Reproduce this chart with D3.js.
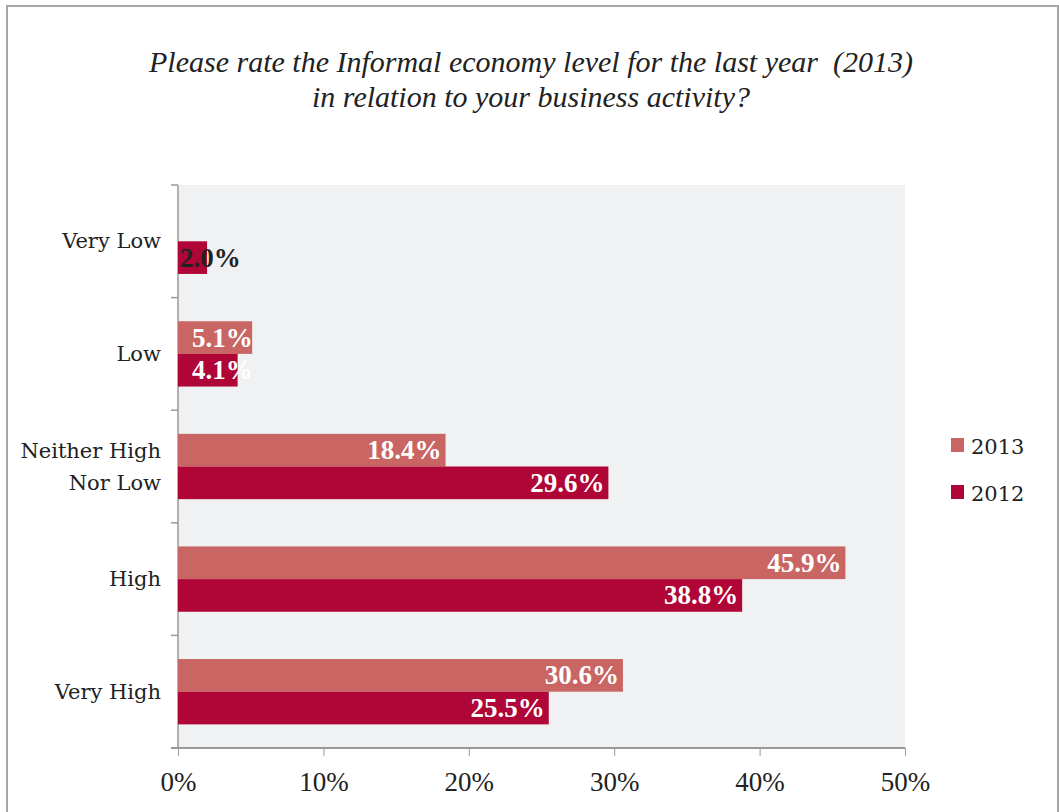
<!DOCTYPE html>
<html>
<head>
<meta charset="utf-8">
<script src="https://cdn.jsdelivr.net/npm/d3@7"></script>
<style>
  body { margin: 0; background: #fff; }
  .tick text { font-family: "Liberation Serif", serif; }
</style>
</head>
<body>
<div id="chart"></div>
<script>
// Data
//= ================================
var categories = ["Very Low", "Low", "Neither High Nor Low", "High", "Very High"];
var seriesNames = ["2013", "2012"];
var values2013 = [null, 5.1, 18.4, 45.9, 30.6];
var values2012 = [2.0, 4.1, 29.6, 38.8, 25.5];
var xTicks = [0, 10, 20, 30, 40, 50];
var colors = ["#c96663", "#b00537"];

// Set up chart
//= ================================
var svgWidth = 1059;
var svgHeight = 812;

var margin = { top: 185, right: 154, bottom: 64, left: 178 };
var width = svgWidth - margin.left - margin.right;
var height = svgHeight - margin.top - margin.bottom;

var svg = d3.select("#chart")
  .append("svg")
  .attr("width", svgWidth)
  .attr("height", svgHeight);

// outer frame
svg.append("rect")
  .attr("x", 7).attr("y", 6)
  .attr("width", 1051).attr("height", 820)
  .attr("fill", "none")
  .attr("stroke", "#a6a6a6")
  .attr("stroke-width", 2);

// title
var title = svg.append("text")
  .attr("text-anchor", "middle")
  .style("font-family", "'Liberation Serif', serif")
  .style("font-style", "italic")
  .style("font-size", "30px")
  .style("fill", "#222");
title.append("tspan").attr("x", 531).attr("y", 72)
  .text("Please rate the Informal economy level for the last year\u00a0\u00a0(2013)");
title.append("tspan").attr("x", 531).attr("y", 107)
  .text("in relation to your business activity?");

var chartGroup = svg.append("g")
  .attr("transform", `translate(${margin.left}, ${margin.top})`);

chartGroup.append("rect")
  .attr("width", width)
  .attr("height", height)
  .attr("fill", "#f0f1f3");

// scales
var xScale = d3.scaleLinear().domain([0, 50]).range([0, width]);
var yScale = d3.scaleBand().domain(categories).range([0, height]).paddingInner(0.42).paddingOuter(0.21);
var subScale = d3.scaleBand().domain(seriesNames).range([0, yScale.bandwidth()]);

// axes
var bottomAxis = d3.axisBottom(xScale)
  .tickValues(xTicks)
  .tickFormat(d => d + "%")
  .tickSize(8)
  .tickSizeOuter(0);

var xAxisG = chartGroup.append("g")
  .attr("transform", `translate(0, ${height})`)
  .call(bottomAxis);
xAxisG.select(".domain").attr("stroke", "#999").attr("stroke-width", 2).attr("d", `M-7,0H${width}`);
xAxisG.selectAll(".tick line").attr("stroke", "#999");
xAxisG.selectAll(".tick text")
  .attr("dy", "0")
  .attr("y", 43)
  .style("font-size", "27px")
  .style("fill", "#222");

// y axis: line with ticks on category boundaries
var boundaries = d3.range(categories.length + 1).map(i => i * height / categories.length);
chartGroup.append("line")
  .attr("x1", 0).attr("x2", 0)
  .attr("y1", 0).attr("y2", height)
  .attr("stroke", "#999").attr("stroke-width", 1.5);
chartGroup.selectAll(".ytick")
  .data(boundaries)
  .enter()
  .append("line")
  .attr("class", "ytick")
  .attr("x1", -7).attr("x2", 0)
  .attr("y1", d => d).attr("y2", d => d)
  .attr("stroke", "#999").attr("stroke-width", 1.5);

// category labels
var catLines = { "Neither High Nor Low": ["Neither High", "Nor Low"] };
chartGroup.selectAll(".cat")
  .data(categories)
  .enter()
  .append("text")
  .attr("class", "cat")
  .attr("text-anchor", "middle")
  .style("font-family", "'DejaVu Serif', serif")
  .style("font-size", "21px")
  .style("fill", "#222")
  .each(function(d) {
    var lines = catLines[d] || [d];
    var cy = yScale(d) + yScale.bandwidth() / 2;
    var t = d3.select(this);
    lines.forEach(function(line, i) {
      t.append("tspan")
        .attr("x", -70)
        .attr("y", cy + 7 + (i - (lines.length - 1) / 2) * 32)
        .text(line);
    });
  })
  .attr("text-anchor", "end")
  .selectAll("tspan")
  .attr("x", -17);

// bars
var rows = [];
categories.forEach(function(c, i) {
  rows.push({ cat: c, series: "2013", value: values2013[i], color: colors[0] });
  rows.push({ cat: c, series: "2012", value: values2012[i], color: colors[1] });
});
rows = rows.filter(d => d.value !== null);

var defs = svg.append("defs");

chartGroup.selectAll(".bar")
  .data(rows)
  .enter()
  .append("rect")
  .attr("class", "bar")
  .attr("x", 0)
  .attr("y", d => yScale(d.cat) + subScale(d.series))
  .attr("width", d => xScale(d.value))
  .attr("height", subScale.bandwidth())
  .attr("fill", d => d.color);

// value labels
var labelFont = "'Liberation Serif', serif";
var labelSize = "27px";
rows.forEach(function(d, i) {
  var y = yScale(d.cat) + subScale(d.series) + subScale.bandwidth() / 2 + 9;
  var barEnd = xScale(d.value);
  var label = chartGroup.append("text")
    .style("font-family", labelFont)
    .style("font-weight", "bold")
    .style("font-size", labelSize)
    .attr("y", y)
    .text(d.value.toFixed(1) + "%");
  var w = label.node().getComputedTextLength();
  var xStart = Math.max(barEnd - 4 - w, w > barEnd * 1.5 ? 2 : 14);
  label.attr("x", xStart).style("fill", "#fff");

  if (w > barEnd * 1.5) {
    // label overflows a short bar: dark text outside, white inside the bar
    label.style("fill", "#222");
    var clipId = "clip" + i;
    defs.append("clipPath").attr("id", clipId)
      .append("rect")
      .attr("x", margin.left)
      .attr("y", margin.top + yScale(d.cat) + subScale(d.series))
      .attr("width", barEnd)
      .attr("height", subScale.bandwidth());
    svg.append("text")
      .attr("clip-path", `url(#${clipId})`)
      .attr("transform", `translate(${margin.left}, ${margin.top})`)
      .style("font-family", labelFont)
      .style("font-weight", "bold")
      .style("font-size", labelSize)
      .style("fill", "#fff")
      .attr("x", xStart)
      .attr("y", y)
      .text(d.value.toFixed(1) + "%");
  }
});

// legend
var legend = svg.append("g");
seriesNames.forEach(function(s, i) {
  var ly = 438 + i * 47;
  legend.append("rect")
    .attr("x", 951).attr("y", ly)
    .attr("width", 13).attr("height", 14)
    .attr("fill", colors[i]);
  legend.append("text")
    .attr("x", 971).attr("y", ly + 16)
    .style("font-family", "'DejaVu Serif', serif")
    .style("font-size", "21px")
    .style("fill", "#222")
    .text(s);
});
</script>
</body>
</html>
